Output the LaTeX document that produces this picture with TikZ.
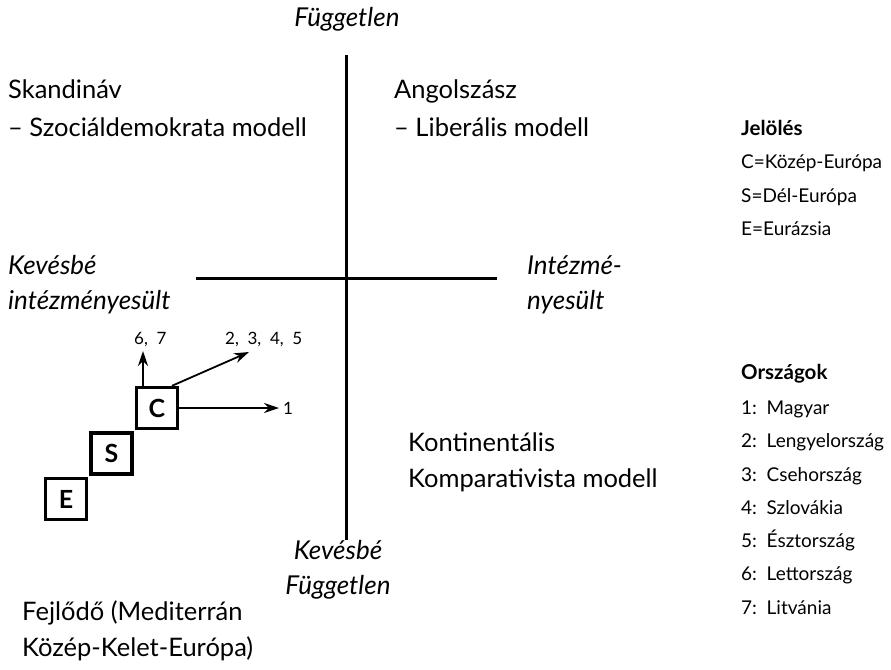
\documentclass[tikz,border=0pt]{standalone}
\usepackage{fontspec}
\setmainfont{Lato}
\usetikzlibrary{arrows.meta}
\tikzset{
  big/.style={font=\fontsize{25.5}{30}\selectfont, inner sep=0pt, anchor=base west},
  bigit/.style={font=\fontsize{26}{30}\selectfont\itshape, inner sep=0pt},
  leg/.style={font=\fontsize{19}{22}\selectfont, inner sep=0pt, anchor=base west},
  leghead/.style={font=\fontsize{20.5}{22}\selectfont\bfseries, inner sep=0pt, anchor=base west},
  small/.style={font=\fontsize{17}{20}\selectfont, inner sep=0pt, anchor=base},
  axis/.style={line width=3pt},
  regbox/.style={draw, line width=3.4pt, minimum size=41pt, inner sep=0pt, font=\fontsize{25}{28}\selectfont\bfseries},
  arr/.style={line width=1.8pt, -{Stealth[length=15pt,width=10pt]}}
}
\begin{document}
\begin{tikzpicture}[x=1pt,y=-1pt]
\useasboundingbox (0,0) rectangle (891,669);
% axes
\coordinate (vt) at (346,55);
\coordinate (vb) at (346,540);
\coordinate (hl) at (196,278);
\coordinate (hr) at (497,278);
\draw[axis] (vt) -- (vb);
\draw[axis] (hl) -- (hr);
% axis labels
\node[bigit, anchor=base] (top) at (347,27) {Független};
\node[bigit, anchor=base west] (lk1) at (8,274) {Kevésbé};
\node[bigit, anchor=base west] (lk2) at (8,309) {intézményesült};
\node[bigit, anchor=base west] (ri1) at (527,274) {Intézmé-};
\node[bigit, anchor=base west] (ri2) at (527,309) {nyesült};
\node[bigit, anchor=base] (bk1) at (338,559) {Kevésbé};
\node[bigit, anchor=base] (bk2) at (338,594) {Független};
% quadrant labels
\node[big] (sk1) at (8,98) {Skandináv};
\node[big] (sk2) at (8,136) {– Szociáldemokrata modell};
\node[big] (an1) at (394,98) {Angolszász};
\node[big] (an2) at (394,136) {– Liberális modell};
\node[big] (ko1) at (408,451) {Kontinentális};
\node[big] (ko2) at (408,487) {Komparativista modell};
\node[big] (fe1) at (22,620) {Fejlődő (Mediterrán};
\node[big] (fe2) at (22,656) {Közép-Kelet-Európa)};
% boxes
\node[regbox] (C) at (157,408) {C};
\node[regbox] (S) at (111.5,453.5) {S};
\node[regbox] (E) at (66,499) {E};
% arrows
\node[small, anchor=west] (l1) at (283,408) {1};
\node[small, anchor=base west] (l67) at (134,344) {6,\ \ 7};
\node[small, anchor=base west] (l25) at (225,344) {2,\ \ 3,\ \ 4,\ \ 5};
\coordinate (t1) at (279,408);
\coordinate (t67) at (143,351);
\coordinate (t25) at (249,352);
\draw[arr] (C.east) -- (t1);
\draw[arr] (C.north west -| t67) -- (t67);
\draw[arr] ([xshift=15pt]C.north) -- (t25);
% legend
\node[leghead] (jel) at (741,135) {Jelölés};
\node[leg] (jc) at (741,168) {C=Közép-Európa};
\node[leg] (js) at (741,202) {S=Dél-Európa};
\node[leg] (je) at (741,235) {E=Eurázsia};
\node[leghead] (orsz) at (741,379) {Országok};
\node[leg] (o1) at (741,414) {1:\ \ Magyar};
\node[leg] (o2) at (741,447) {2:\ \ Lengyelország};
\node[leg] (o3) at (741,481) {3:\ \ Csehország};
\node[leg] (o4) at (741,514) {4:\ \ Szlovákia};
\node[leg] (o5) at (741,547) {5:\ \ Észtország};
\node[leg] (o6) at (741,580) {6:\ \ Lettország};
\node[leg] (o7) at (741,614) {7:\ \ Litvánia};
\end{tikzpicture}
\end{document}
